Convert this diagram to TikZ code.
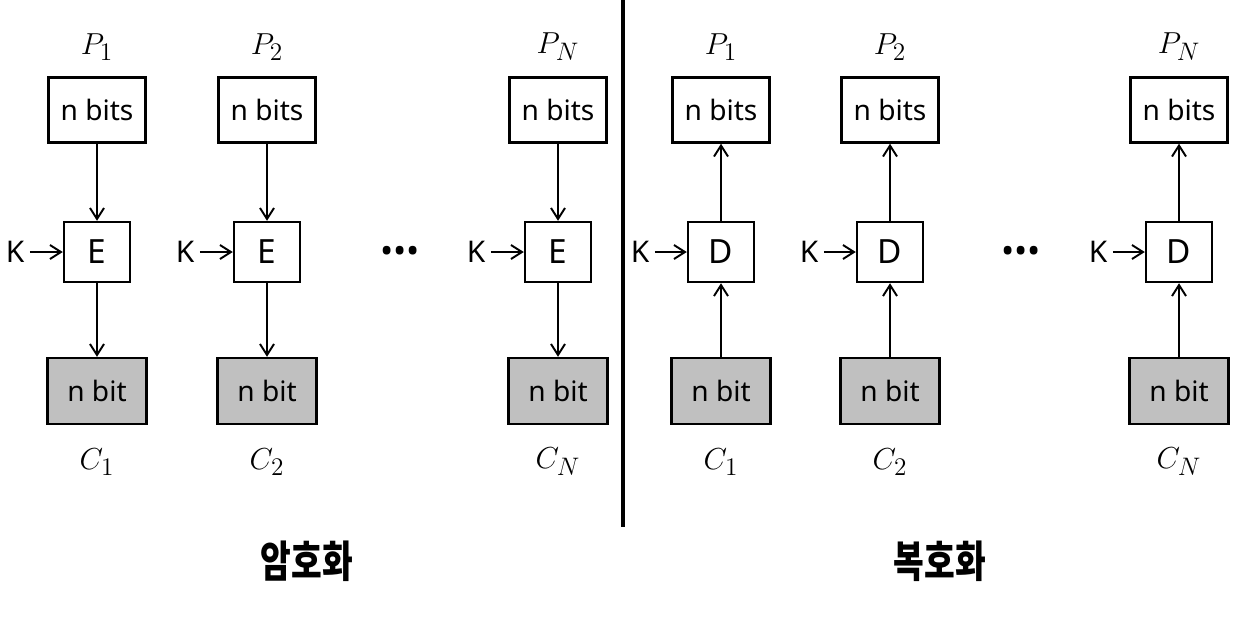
\documentclass[tikz,border=0pt]{standalone}
\usepackage{fontspec}
\usepackage{graphicx}
\setmainfont{Noto Sans}
\newfontfamily\kor{Noto Sans CJK KR}
\usetikzlibrary{arrows.meta}
\definecolor{cipgray}{RGB}{192,192,192}
\tikzset{
    bitbox/.style={draw, line width=1.4pt, minimum width=1.94cm,
        minimum height=1.3cm, inner sep=0pt, font=\fontsize{16}{18}\selectfont},
    cipbox/.style={bitbox, fill=cipgray, minimum width=1.98cm, minimum height=1.32cm},
    funbox/.style={draw, line width=1.4pt, minimum width=1.32cm,
        minimum height=1.2cm, inner sep=0pt, font=\fontsize{19}{21}\selectfont},
    keylab/.style={inner sep=3pt, font=\fontsize{17}{19}\selectfont},
    sublab/.style={font=\fontsize{19}{21}\selectfont},
    flow/.style={line width=1.1pt, -{Straight Barb[length=2.2mm,width=2.8mm]}},
    title/.style={font=\kor\bfseries\fontsize{19}{21}\selectfont},
}

\begin{document}
\begin{tikzpicture}[x=0.02cm, y=-0.02cm]
    \useasboundingbox (0,0) rectangle (1236,620);
    \draw[line width=1.8pt] (623,0) -- (623,527);

    % encryption
    \foreach \x/\i/\k in {97/1/1, 267/2/2, 558/N/3} {
        \node[sublab] (epl\k) at (\x,47) {$P_{\i}$};
        \node[bitbox] (ep\k) at (\x,110) {n bits};
        \node[funbox] (ee\k) at (\x,252) {E};
        \node[keylab] (ek\k) at (\x-82,252) {K};
        \node[cipbox] (ec\k) at (\x,391) {n bit};
        \node[sublab] (ecl\k) at (\x,462) {$C_{\i}$};
        \draw[flow] (ep\k) -- (ee\k);
        \draw[flow] (ek\k) -- (ee\k);
        \draw[flow] (ee\k) -- (ec\k);
    }
    \node[font=\fontsize{20}{22}\selectfont] (edots) at (400,255) {\textbullet\textbullet\textbullet};
    \node[title] (etitle) at (307,561) {\scalebox{1}[1.3]{암호화}};

    % decryption
    \foreach \x/\i/\k in {721/1/1, 890/2/2, 1179/N/3} {
        \node[sublab] (dpl\k) at (\x,47) {$P_{\i}$};
        \node[bitbox] (dp\k) at (\x,110) {n bits};
        \node[funbox] (dd\k) at (\x,252) {D};
        \node[keylab] (dk\k) at (\x-81,252) {K};
        \node[cipbox] (dc\k) at (\x,391) {n bit};
        \node[sublab] (dcl\k) at (\x,462) {$C_{\i}$};
        \draw[flow] (dc\k) -- (dd\k);
        \draw[flow] (dk\k) -- (dd\k);
        \draw[flow] (dd\k) -- (dp\k);
    }
    \node[font=\fontsize{20}{22}\selectfont] (ddots) at (1021,255) {\textbullet\textbullet\textbullet};
    \node[title] (dtitle) at (940,561) {\scalebox{1}[1.3]{복호화}};
\end{tikzpicture}
\end{document}
